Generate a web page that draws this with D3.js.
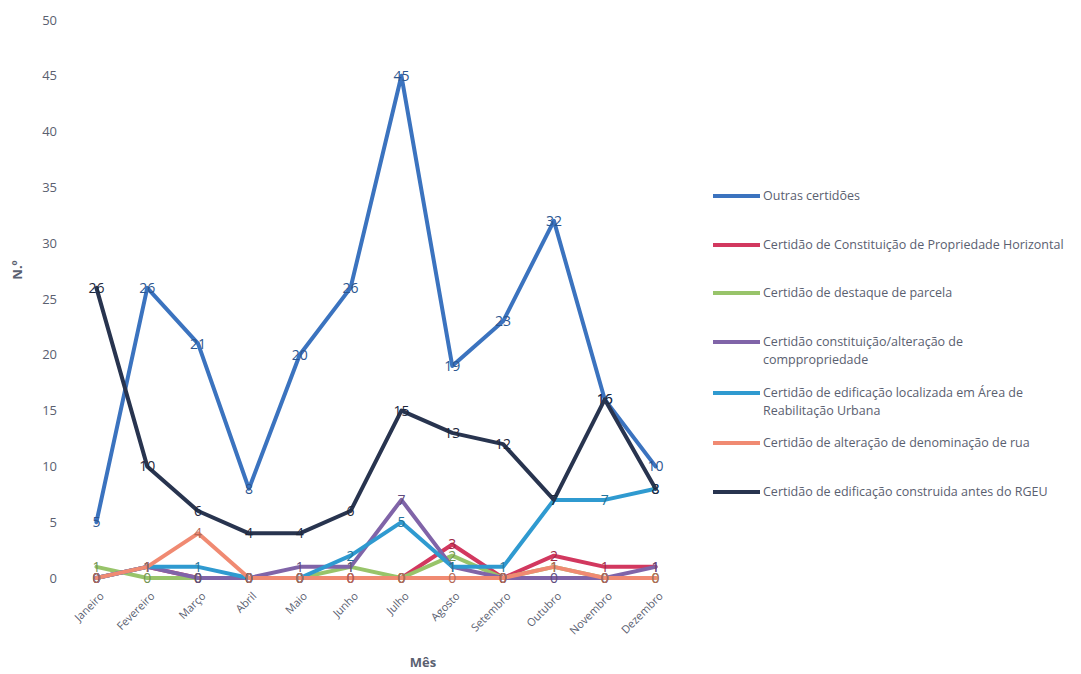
<!DOCTYPE html>
<html><head><meta charset="utf-8">
<script src="https://cdn.jsdelivr.net/npm/d3@7"></script>
<style>
html,body{margin:0;padding:0;background:#fff;}
svg{display:block;font-family:"Open Sans","Liberation Sans",sans-serif;}
</style></head>
<body>
<svg id="chart" width="1081" height="674"></svg>
<script>
const months = ["Janeiro","Fevereiro","Março","Abril","Maio","Junho","Julho","Agosto","Setembro","Outubro","Novembro","Dezembro"];
const yTicks = [0,5,10,15,20,25,30,35,40,45,50];

const seriesNames = [
  "Outras certidões",
  "Certidão de Constituição de Propriedade Horizontal",
  "Certidão de destaque de parcela",
  "Certidão constituição/alteração de comppropriedade",
  "Certidão de edificação localizada em Área de Reabilitação Urbana",
  "Certidão de alteração de denominação de rua",
  "Certidão de edificação construida antes do RGEU"
];
const legendLines = [
  ["Outras certidões"],
  ["Certidão de Constituição de Propriedade Horizontal"],
  ["Certidão de destaque de parcela"],
  ["Certidão constituição/alteração de","comppropriedade"],
  ["Certidão de edificação localizada em Área de","Reabilitação Urbana"],
  ["Certidão de alteração de denominação de rua"],
  ["Certidão de edificação construida antes do RGEU"]
];
const outras      = [5,26,21,8,20,26,45,19,23,32,16,10];
const horizontal  = [0,1,0,0,0,0,0,3,0,2,1,1];
const destaque    = [1,0,0,0,0,1,0,2,0,1,0,0];
const compropried = [0,1,0,0,1,1,7,1,0,0,0,1];
const aru         = [0,1,1,0,0,2,5,1,1,7,7,8];
const rua         = [0,1,4,0,0,0,0,0,0,1,0,0];
const rgeu        = [26,10,6,4,4,6,15,13,12,7,16,8];
const seriesValues = [outras,horizontal,destaque,compropried,aru,rua,rgeu];
const colors = ["#3b73bf","#d2385f","#98c46a","#8064a8","#2f9ad0","#f08a72","#28344f"];

const svg = d3.select("#chart");
const x = d3.scalePoint().domain(months).range([71,681]).padding(0.5);
const y = d3.scaleLinear().domain([0,50]).range([578,20]);

// y axis
const yAxis = svg.append("g").attr("transform","translate(71,0)")
  .call(d3.axisLeft(y).tickValues(yTicks).tickSize(0).tickPadding(14));
yAxis.select(".domain").remove();
yAxis.selectAll("text").attr("fill","#5a6070").style("font-size","13px")
  .style("font-family","'Open Sans',sans-serif");

// x axis
const xAxis = svg.append("g").attr("transform","translate(0,578)")
  .call(d3.axisBottom(x).tickSize(0).tickPadding(0));
xAxis.select(".domain").remove();
xAxis.selectAll("text").attr("fill","#5a6070").style("font-size","11px")
  .style("font-family","'Open Sans',sans-serif")
  .attr("text-anchor","end")
  .attr("transform","translate(5,16) rotate(-45)")
  .attr("dy","0.35em");

// axis titles
svg.append("text").attr("x",423).attr("y",667).attr("text-anchor","middle")
  .attr("fill","#5a6070").style("font-size","13px").style("font-weight","bold").text("Mês");
svg.append("text").attr("transform","translate(22,270) rotate(-90)").attr("text-anchor","middle")
  .attr("fill","#5a6070").style("font-size","13px").style("font-weight","bold").text("N.º");

// lines
const line = d3.line().x((d,i)=>x(months[i])).y(d=>y(d));
const gLines = svg.append("g");
seriesValues.forEach((vals,k)=>{
  gLines.append("path").datum(vals).attr("d",line)
    .attr("fill","none").attr("stroke",colors[k]).attr("stroke-width",4)
    .attr("stroke-linejoin","round").attr("stroke-linecap","round");
});

// data labels
const gLab = svg.append("g");
seriesValues.forEach((vals,k)=>{
  gLab.selectAll(null).data(vals).enter().append("text")
    .attr("x",(d,i)=>x(months[i])).attr("y",d=>y(d))
    .attr("dy","0.35em").attr("text-anchor","middle")
    .attr("fill", d3.color(colors[k]).darker(0.8))
    .style("font-size","14px")
    .text(d=>d);
});

// legend
const legY = [196,245,293,342,393,443,492];
const gLeg = svg.append("g");
legendLines.forEach((lines,k)=>{
  gLeg.append("line").attr("x1",713).attr("x2",760).attr("y1",legY[k]).attr("y2",legY[k])
    .attr("stroke",colors[k]).attr("stroke-width",4);
  const t = gLeg.append("text").attr("x",763).attr("y",legY[k])
    .attr("fill","#5a6070").style("font-size","12.5px");
  lines.forEach((s,j)=>{
    t.append("tspan").attr("x",763).attr("dy", j===0?"0.35em":"18px").text(s);
  });
});
</script>
</body></html>
